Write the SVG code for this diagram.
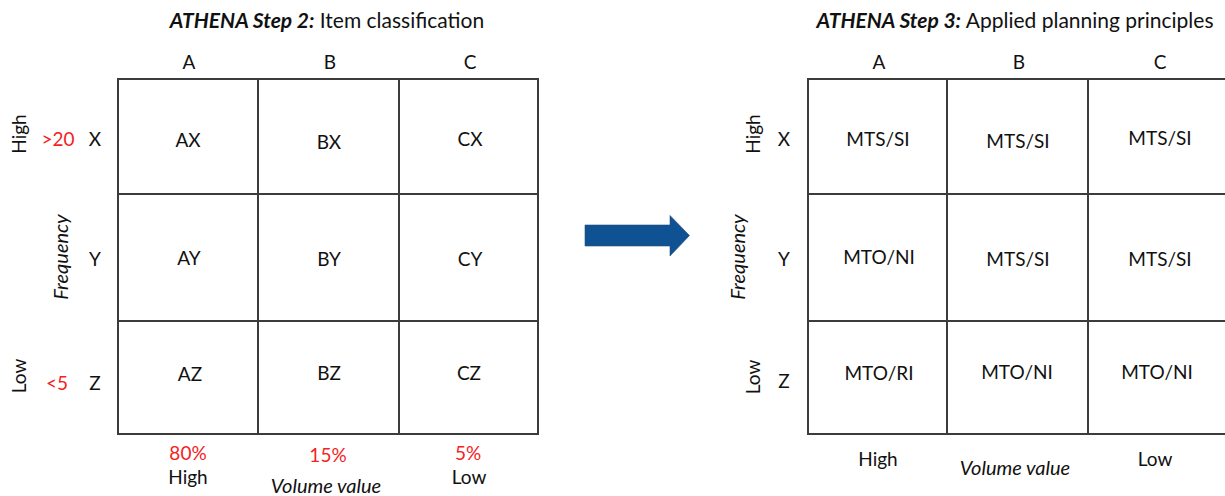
<svg xmlns="http://www.w3.org/2000/svg" width="1225" height="496" viewBox="0 0 1225 496">
  <style>
    text { font-family: Lato, "Liberation Sans", sans-serif; fill: #111; }
    .t { font-size: 21px; text-anchor: middle; }
    .tb { font-weight: bold; font-style: italic; }
    .lab { font-size: 19px; text-anchor: middle; dominant-baseline: central; }
    .red { fill: #f52222; }
    .it { font-style: italic; font-size: 20px; }
    .grid { fill: none; stroke: #3c3c3c; stroke-width: 2; }
  </style>

  <!-- Step 2: item classification matrix -->
  <g id="step2">
    <text class="t" x="327" y="28"><tspan class="tb">ATHENA Step 2:</tspan> Item classification</text>
    <g id="step2-cols">
      <text class="lab" x="189" y="61">A</text>
      <text class="lab" x="330" y="61">B</text>
      <text class="lab" x="470" y="61">C</text>
    </g>
    <g id="step2-rows">
      <text class="lab" transform="translate(18,134) rotate(-90)">High</text>
      <text class="lab" transform="translate(18,376) rotate(-90)">Low</text>
      <text class="lab it" transform="translate(60,257) rotate(-90)">Frequency</text>
      <text class="lab red" x="58" y="138">&gt;20</text>
      <text class="lab red" x="57" y="382">&lt;5</text>
      <text class="lab" x="95" y="138">X</text>
      <text class="lab" x="95" y="258">Y</text>
      <text class="lab" x="95" y="382">Z</text>
    </g>
    <g id="step2-grid">
      <rect class="grid" x="118" y="79" width="420" height="355"/>
      <path class="grid" d="M258 79V434M399 79V434M118 194H538M118 321H538"/>
    </g>
    <g id="step2-cells">
      <text class="lab" x="188" y="139">AX</text>
      <text class="lab" x="329" y="141">BX</text>
      <text class="lab" x="470" y="138">CX</text>
      <text class="lab" x="189" y="257">AY</text>
      <text class="lab" x="329" y="258">BY</text>
      <text class="lab" x="470" y="258">CY</text>
      <text class="lab" x="190" y="373">AZ</text>
      <text class="lab" x="329" y="372">BZ</text>
      <text class="lab" x="469" y="372">CZ</text>
    </g>
    <g id="step2-bottom">
      <text class="lab red" x="188" y="452">80%</text>
      <text class="lab red" x="328" y="454">15%</text>
      <text class="lab red" x="468" y="452">5%</text>
      <text class="lab" x="188" y="476">High</text>
      <text class="lab it" x="326" y="485">Volume value</text>
      <text class="lab" x="469" y="476">Low</text>
    </g>
  </g>

  <!-- connector between the two matrices -->
  <g id="connectors">
    <path d="M585 225H670V215.5L689.5 235.5L670 256V246H585Z" fill="#0f5294" stroke="#2a4f7a" stroke-width="0.6"/>
  </g>

  <!-- Step 3: applied planning principles matrix -->
  <g id="step3">
    <text class="t" x="1015" y="28"><tspan class="tb">ATHENA Step 3:</tspan> Applied planning principles</text>
    <g id="step3-cols">
      <text class="lab" x="879" y="61">A</text>
      <text class="lab" x="1019" y="61">B</text>
      <text class="lab" x="1160" y="61">C</text>
    </g>
    <g id="step3-rows">
      <text class="lab" transform="translate(752,134) rotate(-90)">High</text>
      <text class="lab" transform="translate(752,377) rotate(-90)">Low</text>
      <text class="lab it" transform="translate(737,257) rotate(-90)">Frequency</text>
      <text class="lab" x="784" y="138">X</text>
      <text class="lab" x="784" y="258">Y</text>
      <text class="lab" x="784" y="380">Z</text>
    </g>
    <g id="step3-grid">
      <path class="grid" d="M1226 79H808V434H1226M947 79V434M1088 79V434M808 194H1226M808 321H1226"/>
    </g>
    <g id="step3-cells">
      <text class="lab" x="878" y="138">MTS/SI</text>
      <text class="lab" x="1018" y="140">MTS/SI</text>
      <text class="lab" x="1160" y="137">MTS/SI</text>
      <text class="lab" x="879" y="256">MTO/NI</text>
      <text class="lab" x="1018" y="258">MTS/SI</text>
      <text class="lab" x="1160" y="258">MTS/SI</text>
      <text class="lab" x="879" y="372">MTO/RI</text>
      <text class="lab" x="1017" y="371">MTO/NI</text>
      <text class="lab" x="1157" y="371">MTO/NI</text>
    </g>
    <g id="step3-bottom">
      <text class="lab" x="878" y="458">High</text>
      <text class="lab it" x="1015" y="467">Volume value</text>
      <text class="lab" x="1155" y="458">Low</text>
    </g>
  </g>
</svg>
